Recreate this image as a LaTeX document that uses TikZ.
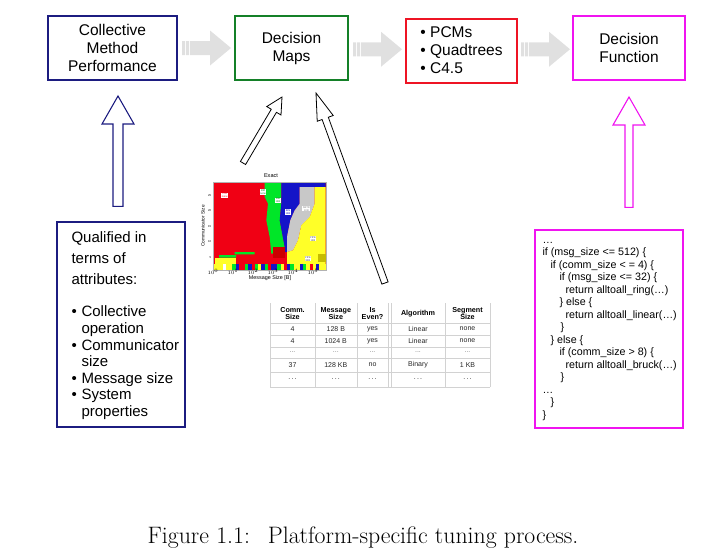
\documentclass[tikz,border=0pt]{standalone}
\usepackage{fontspec}
\newfontfamily\arial{Liberation Sans}
\usetikzlibrary{positioning,calc}
\definecolor{boxnavy}{RGB}{28,28,128}
\definecolor{boxgreen}{RGB}{20,128,40}
\definecolor{boxred}{RGB}{238,20,36}
\definecolor{boxmag}{RGB}{240,20,240}
\definecolor{flowgray}{RGB}{224,224,224}
\definecolor{mapred}{RGB}{240,0,20}
\definecolor{mapgreen}{RGB}{0,230,40}
\definecolor{mapblue}{RGB}{20,20,200}
\definecolor{mapgray}{RGB}{200,200,200}
\definecolor{mapyellow}{RGB}{255,255,40}
\newcommand\attrbul{\makebox[10pt][l]{\textbullet}}
\newcommand\attrind{\hspace*{10pt}}
% hollow arrow: style, tail, tip, head length, half shaft, half head
\newcommand\hollowarrow[6]{%
	\coordinate (hb) at ($(#3)!#4!(#2)$);
	\draw[#1] ($(#2)!#5!90:(#3)$) -- ($(hb)!#5!90:(#3)$) -- ($(hb)!#6!90:(#3)$) -- (#3)
		-- ($(hb)!#6!-90:(#3)$) -- ($(hb)!#5!-90:(#3)$) -- ($(#2)!#5!-90:(#3)$) -- cycle;}
\tikzset{
	stage/.style={draw=#1, line width=2pt, minimum height=64pt, align=center,
		font=\arial\fontsize{15.5}{18}\selectfont},
	flow/.style={fill=flowgray},
	hollow/.style={draw=#1, fill=white, line width=1.1pt},
	tabline/.style={gray!35, line width=.4pt},
	tabhead/.style={align=center, inner sep=0pt, font=\arial\bfseries\fontsize{7.2}{7.8}\selectfont},
	tabcell/.style={inner sep=0pt, text=black!85, font=\arial\fontsize{7}{7.5}\selectfont},
	maplabel/.style={fill=white, inner sep=.4pt, align=center, font=\arial\fontsize{2.6}{2.9}\selectfont},
	tick/.style={inner sep=0pt, font=\arial\fontsize{2.8}{3}\selectfont},
}
\begin{document}
\begin{tikzpicture}[x=1pt,y=-1pt]
	\useasboundingbox (0,0) rectangle (717,557);
	% stages
	\node[stage=boxnavy, minimum width=129pt] (perf) at (112.5,48) {Collective\\Method\\Performance};
	\node[stage=boxgreen, minimum width=113pt, right=56pt of perf] (maps) {Decision\\Maps};
	\node[stage=boxred, minimum width=111pt, right=56pt of maps, yshift=-2.5pt, align=left] (algo) {• PCMs\\• Quadtrees\\• C4.5};
	\node[stage=boxmag, minimum width=112pt, right=54pt of algo, yshift=2.5pt] (func) {Decision\\Function};
	\foreach \a/\b in {perf/maps,maps/algo,algo/func}{
		\coordinate (mid) at ($(\a.east)!.5!(\b.west)$);
		\begin{scope}[shift={(mid)}]
			\fill[flow] (-24,-7) rectangle (-21,7) (-20,-7) rectangle (-17,7);
			\fill[flow] (-16,-7) -- (4,-7) -- (4,-17.5) -- (25,0) -- (4,17.5) -- (4,7) -- (-16,7) -- cycle;
		\end{scope}
	}
	% attributes
	\node[draw=boxnavy, line width=1.3pt, minimum width=128pt, minimum height=205pt] (attr) at (121,324.5) {};
	\node[anchor=north west, inner sep=0pt, align=left, font=\arial\fontsize{15}{16.6}\selectfont] (attrtxt)
		at ($(attr.north west)+(15,10.5)$) {Qualified in\\[4.4pt]terms of\\[4.4pt]attributes:\\[15.4pt]%
		\attrbul Collective\\\attrind operation\\\attrbul Communicator\\\attrind size\\%
		\attrbul Message size\\\attrbul System\\\attrind properties};
	\coordinate (attrtail) at ($(attr.north)+(-3,-15)$);
	\coordinate (perftip) at ($(perf.south)+(5.5,15)$);
	\hollowarrow{hollow=boxnavy}{attrtail}{perftip}{28pt}{5pt}{16pt}
	% decision function code
	\node[draw=boxmag, line width=1.2pt, minimum width=148pt, minimum height=198pt] (code) at (609,329) {};
	\node[anchor=north west, inner sep=0pt, align=left, font=\arial\fontsize{10.7}{12.5}\selectfont] (codetxt)
		at ($(code.north west)+(8,4.8)$) {\strut…\\
		if (msg\_size <= 512) \{\\
		\hspace*{8pt}if (comm\_size < = 4) \{\\
		\hspace*{17pt}if (msg\_size <= 32) \{\\
		\hspace*{23pt}return alltoall\_ring(…)\\
		\hspace*{17pt}\} else \{\\
		\hspace*{23pt}return alltoall\_linear(…)\\
		\hspace*{18pt}\}\\
		\hspace*{8pt}\} else \{\\
		\hspace*{17pt}if (comm\_size > 8) \{\\
		\hspace*{23pt}return alltoall\_bruck(…)\\
		\hspace*{18pt}\}\\
		…\\
		\hspace*{8pt}\}\\
		\}};
	\coordinate (codetail) at ($(code.north)+(20,-22)$);
	\coordinate (functip) at ($(func.south)+(0,16)$);
	\hollowarrow{hollow=boxmag}{codetail}{functip}{28pt}{4pt}{16pt}
	% decision map picture
	\begin{scope}[shift={(213,182)}]
		\fill[mapred] (0,0) rectangle (112.7,87.7);
		\fill[mapgreen] (51.7,0) -- (68.3,0) -- (68.3,21.7) -- (66.7,38.3) -- (71.7,65) -- (66.7,71.7) -- (58.3,71.7)
			-- (56.7,55) -- (53.3,38.3) -- (55,21.7) -- (51.7,15) -- cycle;
		\fill[mapblue] (68.3,0) -- (112.7,0) -- (112.7,5) -- (86.7,5) -- (86.7,21.7) -- (81.7,28.3) -- (77.3,38.3)
			-- (74,55) -- (74,70) -- (71.7,70) -- (71.7,65) -- (66.7,38.3) -- (68.3,21.7) -- cycle;
		\fill[mapgray] (86.7,5) -- (101.7,5) -- (101.7,21.7) -- (96.7,35) -- (88.3,43.3) -- (85,58.3) -- (80,68.3)
			-- (74,70) -- (74,55) -- (77.3,38.3) -- (81.7,28.3) -- (86.7,21.7) -- cycle;
		\fill[mapyellow] (101.7,5) -- (112.7,5) -- (112.7,82.3) -- (74,82.3) -- (74,70) -- (80,68.3) -- (85,58.3)
			-- (88.3,43.3) -- (96.7,35) -- (101.7,21.7) -- cycle;
		\fill[red!80!black] (60,65) rectangle (72,76);
		\fill[olive!50!yellow] (105,71.7) rectangle (112.7,80);
		\fill[mapgreen] (21.7,70) rectangle (41.7,72.3) (6,73) rectangle (23,75.5);
		\fill[mapyellow] (1.7,75.7) rectangle (23.3,82.3);
		\foreach \col [count=\i] in {mapyellow,mapyellow,mapyellow,white,mapyellow,mapyellow,mapgreen,mapblue,mapred,
			mapred,mapgreen,mapblue,mapred,mapgreen,mapyellow,mapblue,mapgreen,mapred,mapblue,mapblue,mapgreen,mapyellow,
			mapred,mapblue,mapgreen,mapyellow,mapyellow,mapblue,mapgreen,mapyellow,mapred,mapyellow,mapblue,mapyellow,mapyellow}
			\fill[\col] ({(\i-1)*3.22},82.3) rectangle ++(3.22,5.4);
		\draw[gray!60, line width=.3pt] (0,0) rectangle (112.7,87.7);
		\node[maplabel, text=mapred] (lin) at (11.7,13.3) {LIN\\none};
		\node[maplabel, text=boxgreen] (bmn) at (50,10) {BM\\none};
		\node[maplabel, text=boxgreen] (bmk) at (65,18.3) {BM\\1KB};
		\node[maplabel, text=mapblue] (bin) at (75,30) {BIN\\1KB};
		\node[maplabel, text=gray] (sbt) at (93.3,26.7) {SBTR\\1KB};
		\node[maplabel, text=black!70] (pip) at (100,56.7) {PIPE\\1KB};
		\node[maplabel, text=black!70] (pipe) at (95,76.7) {PIPE\\8KB};
		\foreach \t [count=\i from 0] in {0,20,...,100}
			\node[tick] at (\t,90.3) {$10^{\i}$};
		\foreach \v/\t in {5/76,10/60,15/44.5,20/29,25/13.5}
			\node[tick, anchor=east] at (-1.5,\t) {\v};
		\node[tick, rotate=90, font=\arial\fontsize{4.8}{5}\selectfont] (ylab) at (-10,44) {Communicator Size};
		\node[tick, font=\arial\fontsize{5.4}{6}\selectfont] (xlab) at (57,96.5) {Message Size [B]};
		\node[tick, font=\arial\fontsize{5.6}{6}\selectfont] (title) at (58,-6) {Exact};
	\end{scope}
	% table
	\foreach \x in {270,315,356.7,388.3,390.7,445,490}
		\draw[tabline] (\x,303) -- (\x,386.7);
	\foreach \y in {323.3,335,346.7,358.3,371.7,386.7}
		\draw[tabline] (270,\y) -- (490,\y);
	\foreach \x/\h in {292.5/{Comm.\\Size},335.8/{Message\\Size},372.5/{Is\\Even?},418/Algorithm,467.5/{Segment\\Size}}
		\node[tabhead] at (\x,313.5) {\h};
	\foreach \y/\cs/\ms/\ev/\al/\sg in {329/4/128 B/yes/Linear/none,341/4/1024 B/yes/Linear/none,365/37/128 KB/no/Binary/1 KB}{
		\node[tabcell] at (292.5,\y) {\cs};
		\node[tabcell] at (335.8,\y) {\ms};
		\node[tabcell] at (372.5,\y) {\ev};
		\node[tabcell] at (418,\y) {\al};
		\node[tabcell] at (467.5,\y) {\sg};
	}
	\foreach \x in {292.5,335.8,372.5,418,467.5}{
		\node[tabcell, text=gray] at (\x,352.5) {...};
		\node[tabcell] at (\x,379) {.\,.\,.};
	}
	% arrows into the maps
	\coordinate (maptail) at (243,163);
	\coordinate (maptip) at ($(maps.south)+(-9.5,16)$);
	\coordinate (tabtail) at (385,283);
	\coordinate (tabtip) at ($(maps.south)+(24.5,12)$);
	\hollowarrow{hollow=black, line width=.8pt}{maptail}{maptip}{16pt}{3pt}{8.3pt}
	\hollowarrow{hollow=black, line width=.8pt}{tabtail}{tabtip}{27pt}{3.3pt}{8.5pt}
	% caption
	\node[anchor=base, inner sep=0pt, font=\fontsize{23.8}{26}\selectfont] (caption) at (363,543)
		{Figure 1.1:\hspace{0.75em}Platform-specific tuning process.};
\end{tikzpicture}
\end{document}
